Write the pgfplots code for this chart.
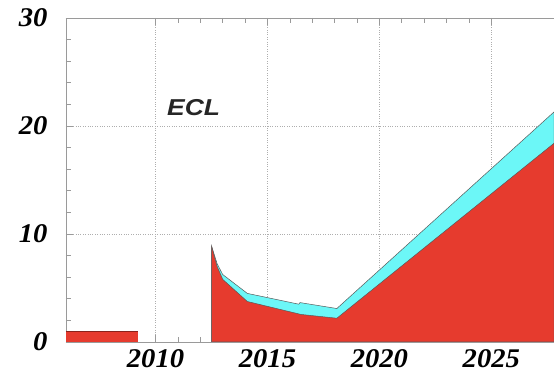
\documentclass[border=0pt]{standalone}
\usepackage{fontspec}
\setmainfont{Liberation Serif}
\newfontfamily\labelsans{Liberation Sans}[FakeStretch=1.15]
\newfontfamily\ticksf{Liberation Serif}[FakeStretch=1.06]
\usepackage{pgfplots}
\pgfplotsset{compat=1.18}

\definecolor{eclred}{HTML}{E63B2E}
\definecolor{eclcyan}{HTML}{6CF7F7}
\definecolor{framegray}{HTML}{9A9A9A}

\begin{document}
\begin{tikzpicture}
\begin{axis}[
  name=ax,
  scale only axis,
  width=488pt, height=324pt,
  xmin=2006, xmax=2027.8,
  ymin=0, ymax=30,
  xtick={2010,2015,2020,2025},
  ytick={0,10,20,30},
  minor x tick num=4,
  minor y tick num=4,
  ytick pos=left,
  tick align=inside,
  major tick length=7pt,
  minor tick length=5pt,
  axis line style={framegray, line width=0.8pt},
  every tick/.style={framegray, line width=0.6pt},
  grid=major,
  major grid style={framegray!80, dotted, line width=0.8pt},
  /pgf/number format/assume math mode=true,
  /pgf/number format/set thousands separator={},
  tick label style={font=\ticksf\bfseries\itshape\fontsize{27}{27}\selectfont},
  xticklabel style={yshift=-4.5pt},
  yticklabel style={xshift=-15pt},
  clip=true,
]
% early running period
\addplot[fill=eclred, draw=none] coordinates {
  (2006,0) (2006,1.0) (2009.2,1.0) (2009.2,0)} -- cycle;
\addplot[draw=eclred!60!black, line width=0.8pt] coordinates {
  (2006,1.0) (2009.2,1.0)};

% upper envelope (cyan band)
\addplot[fill=eclcyan, draw=black!65, line width=0.5pt] coordinates {
  (2012.5,0) (2012.5,8.9) (2012.75,7.25) (2013.0,6.25) (2014.1,4.5)
  (2016.4,3.5) (2016.45,3.65) (2018.1,3.1) (2027.8,21.3) (2027.8,0)} -- cycle;

% lower envelope (red area)
\addplot[fill=eclred, draw=black!65, line width=0.5pt] coordinates {
  (2012.5,0) (2012.5,8.9) (2012.75,7.0) (2013.0,5.8) (2014.1,3.75)
  (2016.5,2.55) (2018.1,2.2) (2027.8,18.4) (2027.8,0)} -- cycle;

\node[font=\labelsans\bfseries\itshape\fontsize{23}{23}\selectfont, text=black!85]
  at (axis cs:2011.7,21.7) {ECL};
\end{axis}
\pgfresetboundingbox
\path ([shift={(-66pt,-37pt)}]ax.south west) rectangle ([shift={(0pt,18pt)}]ax.north east);
\end{tikzpicture}
\end{document}
